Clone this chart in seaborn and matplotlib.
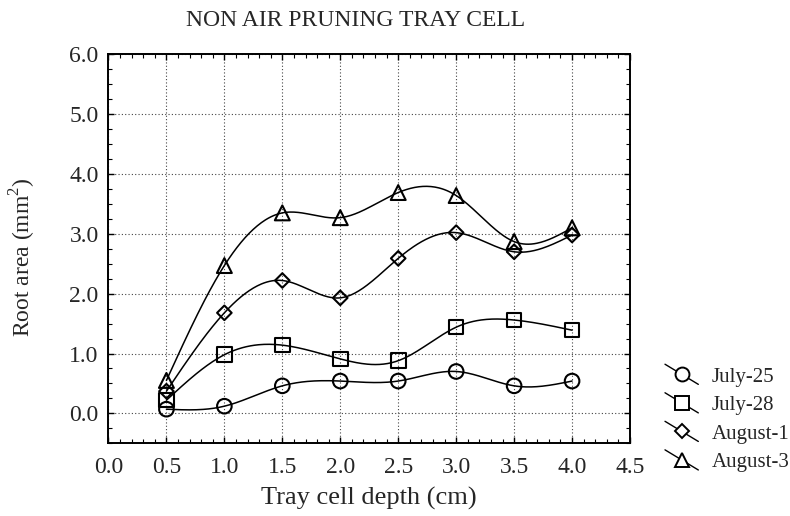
import numpy as np
import pandas as pd
import matplotlib
matplotlib.use("Agg")
import matplotlib.pyplot as plt
import seaborn as sns
from matplotlib.lines import Line2D
from matplotlib.legend_handler import HandlerBase
from matplotlib.ticker import MultipleLocator

# ---- data ----
depth = [0.5, 1.0, 1.5, 2.0, 2.5, 3.0, 3.5, 4.0]
july25 = [0.07, 0.12, 0.46, 0.54, 0.54, 0.70, 0.46, 0.54]
july28 = [0.22, 0.98, 1.14, 0.91, 0.88, 1.44, 1.56, 1.39]
aug1 = [0.37, 1.68, 2.22, 1.93, 2.59, 3.02, 2.70, 2.98]
aug3 = [0.55, 2.47, 3.35, 3.27, 3.69, 3.64, 2.87, 3.10]
series_names = ["July-25", "July-28", "August-1", "August-3"]
series_vals = [july25, july28, aug1, aug3]
markers = ["o", "s", "D", "^"]
msizes = [110, 110, 55, 115]
x_ticks = [0.0, 0.5, 1.0, 1.5, 2.0, 2.5, 3.0, 3.5, 4.0, 4.5]
y_ticks = [0.0, 1.0, 2.0, 3.0, 4.0, 5.0, 6.0]


def natural_spline(x, y, xs):
    x = np.asarray(x, float); y = np.asarray(y, float)
    n = len(x)
    h = np.diff(x)
    A = np.zeros((n, n)); b = np.zeros(n)
    A[0, 0] = 1; A[-1, -1] = 1
    for i in range(1, n - 1):
        A[i, i - 1] = h[i - 1]
        A[i, i] = 2 * (h[i - 1] + h[i])
        A[i, i + 1] = h[i]
        b[i] = 6 * ((y[i + 1] - y[i]) / h[i] - (y[i] - y[i - 1]) / h[i - 1])
    M = np.linalg.solve(A, b)
    out = np.empty_like(xs)
    for k, xv in enumerate(xs):
        i = min(max(np.searchsorted(x, xv) - 1, 0), n - 2)
        t1 = x[i + 1] - xv; t0 = xv - x[i]
        out[k] = (M[i] * t1 ** 3 + M[i + 1] * t0 ** 3) / (6 * h[i]) \
            + (y[i] / h[i] - M[i] * h[i] / 6) * t1 \
            + (y[i + 1] / h[i] - M[i + 1] * h[i] / 6) * t0
    return out


sns.set_theme(style="white")
plt.rcParams["font.family"] = ["Liberation Serif", "DejaVu Serif"]
plt.rcParams["mathtext.fontset"] = "custom"
plt.rcParams["mathtext.rm"] = "Liberation Serif"

fig = plt.figure(figsize=(7.9, 5.16), dpi=100)
ax = fig.add_axes([0.1373, 0.1409, 0.6602, 0.7539])

xs = np.linspace(depth[0], depth[-1], 300)
for name, vals, m, s in zip(series_names, series_vals, markers, msizes):
    ys = natural_spline(depth, vals, xs)
    sns.lineplot(x=xs, y=ys, ax=ax, color="black", linewidth=1.1, sort=False,
                 legend=False)
    sns.scatterplot(x=depth, y=vals, ax=ax, marker=m, s=s, facecolors="none",
                    edgecolor="black", linewidth=1.5, legend=False, zorder=5)

ax.set_xlim(0, 4.5)
ax.set_ylim(-0.5, 6.0)
ax.set_xticks(x_ticks)
ax.set_yticks(y_ticks)
ax.set_xticklabels([f"{v:.1f}" for v in x_ticks])
ax.set_yticklabels([f"{v:.1f}" for v in y_ticks])
ax.xaxis.set_minor_locator(MultipleLocator(0.1))
ax.yaxis.set_minor_locator(MultipleLocator(0.25))
ax.tick_params(which="both", direction="in", top=True, right=True,
               bottom=True, left=True, color="black")
ax.tick_params(which="major", length=4, width=1, labelsize=17, pad=7)
ax.tick_params(which="minor", length=3, width=0.8)
ax.tick_params(axis="x", which="major", pad=10)
ax.grid(True, which="major", linestyle=(0, (1, 2)), color="#444444", linewidth=0.8)
for sp in ax.spines.values():
    sp.set_color("black"); sp.set_linewidth(1.4)

ax.set_xlabel("Tray cell depth (cm)", fontsize=19)
ax.xaxis.set_label_coords(0.5, -0.112)
ax.set_ylabel(r"Root area (mm$^2$)", fontsize=17)
ax.yaxis.set_label_coords(-0.135, 0.479)
fig.text(356 / 790, 1 - 20 / 516, "NON AIR PRUNING TRAY CELL", ha="center",
         va="center", fontsize=17)


class SlantHandler(HandlerBase):
    def create_artists(self, legend, orig_handle, xdescent, ydescent, width,
                       height, fontsize, trans):
        x0, x1 = -xdescent, -xdescent + width
        y0, y1 = -ydescent, -ydescent + height
        ln = Line2D([x0, x1], [y1 + 2, y0 - 2], color="black", lw=1.0)
        mk = Line2D([(x0 + x1) / 2], [(y0 + y1) / 2],
                    marker=orig_handle.get_marker(),
                    markersize=orig_handle.get_markersize(),
                    markerfacecolor="white", markeredgecolor="black",
                    markeredgewidth=1.4, linestyle="none")
        for a in (ln, mk):
            a.set_transform(trans)
        return [ln, mk]


handles = [Line2D([], [], marker=m, markersize=(10 if m != "D" else 7),
                  color="black") for m in markers]
leg = fig.legend(handles, series_names, loc="upper left",
                 bbox_to_anchor=(665 / 790, 1 - 367 / 516), frameon=False,
                 fontsize=15, handlelength=1.6, handletextpad=0.65,
                 labelspacing=0.43, borderpad=0, borderaxespad=0,
                 handler_map={Line2D: SlantHandler()})

fig.savefig("out.png", dpi=100)
